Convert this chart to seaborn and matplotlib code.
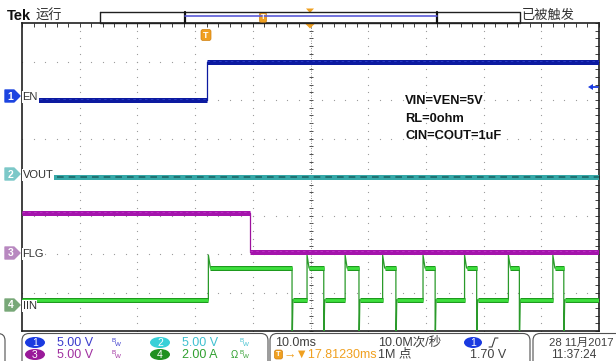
import numpy as np
import pandas as pd
import seaborn as sns
import matplotlib.pyplot as plt
from matplotlib.patches import FancyBboxPatch, Ellipse, Polygon

# scope settings: 10 ms/div over 10 div, 8 vertical div
t_end_ms = 100.0
n_vdiv = 8

# per channel: units per division and ground offset (div from bottom)
ch_names = ['EN', 'VOUT', 'FLG', 'IIN']
ch_scale = [5.0, 5.0, 5.0, 2.0]
ch_offset = [6.0, 4.0, 2.0, 0.675]

# CH1 EN (V)
en_t = [0.0, 32.1, 32.1, 100.0]
en_v = [0.0, 0.0, 5.0, 5.0]

# CH2 VOUT (V), output shorted so it stays at 0
vout_t = [0.0, 100.0]
vout_v = [0.0, 0.0]

# CH3 FLG (V)
flg_t = [0.0, 39.5, 39.5, 100.0]
flg_v = [5.3, 5.3, 0.25, 0.25]

# CH4 IIN (A), hiccup pulses
iin_rise = [32.3, 49.4, 56.0, 62.5, 69.5, 76.7, 84.3, 92.0]
iin_fall = [46.8, 52.3, 58.4, 64.8, 71.6, 78.8, 86.2, 93.9]
iin_low = 0.26
iin_high = 1.92
iin_peak = 2.6
iin_dip = -2.5

iin_t, iin_a = [0.0], [iin_low]
for r, f in zip(iin_rise, iin_fall):
    iin_t += [r, r, r + 0.35, f, f, f + 0.15]
    iin_a += [iin_low, iin_peak, iin_high, iin_high, iin_dip, iin_low]
iin_t.append(100.0)
iin_a.append(iin_low)


def flat_parts(t, y):
    return [(t[k], t[k + 1], y[k]) for k in range(len(t) - 1)
            if y[k] == y[k + 1] and t[k + 1] > t[k]]


sns.set_style("white")
plt.rcParams['font.family'] = ['Liberation Sans', 'Noto Sans CJK SC']

fig = plt.figure(figsize=(6.16, 3.61), dpi=100)
ax = fig.add_axes([22 / 616, 30 / 361, 577 / 616, 308 / 361])
ax.set_xlim(0, t_end_ms)
ax.set_ylim(0, n_vdiv)

# graticule dots
for gx in range(10, 100, 10):
    ys = np.arange(0, n_vdiv + 0.01, 0.2)
    ax.scatter(np.full(len(ys), gx), ys, s=0.8, color='#9a9a9a', lw=0, zorder=1)
for gy in range(1, n_vdiv):
    xs = np.arange(0, 100.1, 2)
    ax.scatter(xs, np.full(len(xs), gy), s=0.8, color='#9a9a9a', lw=0, zorder=1)
# centre cross with ticks
ys = np.arange(0, n_vdiv + 0.01, 0.2)
ax.scatter(np.full(len(ys), 50), ys, marker='_', s=12, color='#505050', lw=0.7, zorder=1)
ax.axvline(50, color='#707070', lw=0.6, ls=(0, (1, 2)), zorder=1)
xs = np.arange(0, 100.1, 2)
ax.scatter(xs, np.full(len(xs), 4), marker='|', s=12, color='#505050', lw=0.7, zorder=1)

ax.set_xticks(np.arange(0, 101, 10))
ax.set_xticks(np.arange(0, 101, 2), minor=True)
ax.set_yticks(np.arange(0, 9, 1))
ax.set_yticks(np.arange(0, 8.01, 0.2), minor=True)
ax.tick_params(which='both', direction='in', top=True, right=True,
               labelbottom=False, labelleft=False, length=3, width=0.7, color='#404040')
for sp in ax.spines.values():
    sp.set_color('#202020')
    sp.set_linewidth(1.2)

traces = [(en_t, en_v), (vout_t, vout_v), (flg_t, flg_v), (iin_t, iin_a)]
thin_col = ['#0c1aa0', '#2a9d9d', '#9c129c', '#2a9a2a']
band_col = ['#0c1aa0', '#35a8a8', '#a414ac', '#1e9a1e']
inner_col = ['#2a3cc8', '#1c6868', '#c030c8', '#3ee03e']

for k, (t, v) in enumerate(traces):
    yd = [ch_offset[k] + val / ch_scale[k] for val in v]
    df = pd.DataFrame({'t': t, 'y': yd})
    sns.lineplot(data=df, x='t', y='y', sort=False, estimator=None,
                 color=thin_col[k], lw=0.9, ax=ax, zorder=3)
    for t0, t1, lev in flat_parts(t, v):
        yy = ch_offset[k] + lev / ch_scale[k]
        ax.hlines(yy, t0, t1, color=band_col[k], lw=3.6, zorder=4)
        if k == 1:
            ax.hlines(yy, t0, t1, color=inner_col[k], lw=1.2, ls=(0, (4, 3)), zorder=5)
        elif k == 3:
            ax.hlines(yy, t0, t1, color=inner_col[k], lw=2.0, zorder=5)
        else:
            ax.hlines(yy + 0.02, t0, t1, color=inner_col[k], lw=0.6, ls=(0, (3, 4)), zorder=5)
ax.set_xlabel('')
ax.set_ylabel('')

# overlay in pixel coordinates for the scope furniture
ov = fig.add_axes([0, 0, 1, 1], zorder=5)
ov.set_xlim(0, 616)
ov.set_ylim(361, 0)
ov.axis('off')
ov.patch.set_alpha(0)

ov.text(7, 16, 'Tek', fontsize=10.5, fontweight='bold', color='#101010', va='center')
ov.text(36, 16, '运行', fontsize=9.5, color='#303030', va='center')
ov.text(522, 16, '已被触发', fontsize=9.5, color='#303030', va='center')

# record view bar
ov.plot([100, 520, 520, 100, 100], [11.5, 11.5, 23, 23, 11.5], color='#202020', lw=1)
ov.plot([185, 185], [11.5, 23], color='#101010', lw=1.6)
ov.plot([437, 437], [11.5, 23], color='#101010', lw=1.6)
ov.plot([185, 437], [16, 16], color='#5a5ad8', lw=1.2)
orange = '#f0a020'


def t_badge(x, y, w, h, fs):
    ov.add_patch(FancyBboxPatch((x - w / 2, y - h / 2), w, h,
                                boxstyle='round,pad=0,rounding_size=2',
                                fc=orange, ec='#d08010', lw=0.5))
    ov.text(x, y, 'T', fontsize=fs, color='white', ha='center', va='center', fontweight='bold')


t_badge(263, 17.5, 7, 10, 5.5)
t_badge(206, 35, 10, 11, 6.5)
ov.add_patch(Polygon([[306, 8.5], [314, 8.5], [310, 13]], closed=True, fc=orange, ec='none'))
ov.add_patch(Polygon([[305, 23.5], [315, 23.5], [310, 28.5]], closed=True, fc=orange, ec='none'))

# trigger level marker on right edge
ov.add_patch(Polygon([[588, 87], [593, 84], [593, 90]], closed=True, fc='#1a3ae0', ec='none'))
ov.plot([592, 598], [87, 87], color='#1a3ae0', lw=1.3)

# channel tags, labels sit on a white patch over the trace
tag_y = [96, 174, 253, 305]
tag_col = ['#1c44e0', '#7cc8c8', '#b888c0', '#78a878']
for k in range(4):
    y = tag_y[k]
    ov.add_patch(Polygon([[5, y - 6], [14, y - 6], [20, y], [14, y + 6], [5, y + 6]],
                         closed=True, fc=tag_col[k], ec=tag_col[k], lw=1, joinstyle='round'))
    ov.text(10.5, y + 0.5, str(k + 1), fontsize=7.5, color='white', ha='center', va='center',
            fontweight='bold')
    ov.text(22.5, y + 1, ch_names[k], fontsize=8, color='#303030', va='center',
            bbox=dict(fc='white', ec='none', pad=0.6))

# test conditions
for i, s in enumerate(['VIN=VEN=5V', 'RL=0ohm', 'CIN=COUT=1uF']):
    ov.text(405, 101 + i * 17.5, s, fontsize=9.3, fontweight='bold', color='#101010', va='center')

# bottom info boxes
for x0, x1 in [(-30, 5), (22, 268), (270, 530), (533, 650)]:
    ov.add_patch(FancyBboxPatch((x0, 333.5), x1 - x0, 40,
                                boxstyle='round,pad=0,rounding_size=7',
                                fc='white', ec='#505050', lw=0.8))

r1, r2 = 342.5, 354.5
badges = [(35, r1, '#1a3ae0', '1', '5.00 V', '#3a3acc', 112),
          (35, r2, '#9a1a9a', '3', '5.00 V', '#a030a0', 112),
          (160, r1, '#38d0d8', '2', '5.00 V', '#40c0d0', 240),
          (160, r2, '#209020', '4', '2.00 A', '#30a030', 240)]
for cx, cy, ec, num, txt, tc, bwx in badges:
    ov.add_patch(Ellipse((cx, cy), 20, 11, fc=ec, ec='none'))
    ov.text(cx, cy + 0.5, num, fontsize=7.5, color='white', ha='center', va='center')
    ov.text(cx + 22, cy, txt, fontsize=9, color=tc, va='center')
    ov.text(bwx, cy - 2, 'B', fontsize=4.5, color=tc, va='center')
    ov.text(bwx + 3, cy + 1.5, 'W', fontsize=4.5, color=tc, va='center')
ov.text(231, r2, 'Ω', fontsize=7, color='#30a030', va='center')

gray = '#404040'
ov.text(275, r1, '10.0ms', fontsize=9, color=gray, va='center')
t_badge(278.5, r2, 8, 9, 5.5)
ov.text(284, r2, '→▼17.81230ms', fontsize=9, color=orange, va='center')
ov.text(378, r1, '10.0M次/秒', fontsize=9, color=gray, va='center')
ov.text(378, r2, '1M 点', fontsize=9, color=gray, va='center')
ov.add_patch(Ellipse((473, r1), 18, 11, fc='#1a3ae0', ec='none'))
ov.text(473, r1 + 0.5, '1', fontsize=7.5, color='white', ha='center', va='center')
ov.plot([489, 492, 495, 498], [347, 347, 338, 338], color=gray, lw=0.8)
ov.text(470, r2, '1.70 V', fontsize=9, color=gray, va='center')
ov.text(549, r1, '28 11月2017', fontsize=8.2, color=gray, va='center')
ov.text(551, r2, '11:37:24', fontsize=8.6, color=gray, va='center')

fig.savefig('out.png', dpi=100)
